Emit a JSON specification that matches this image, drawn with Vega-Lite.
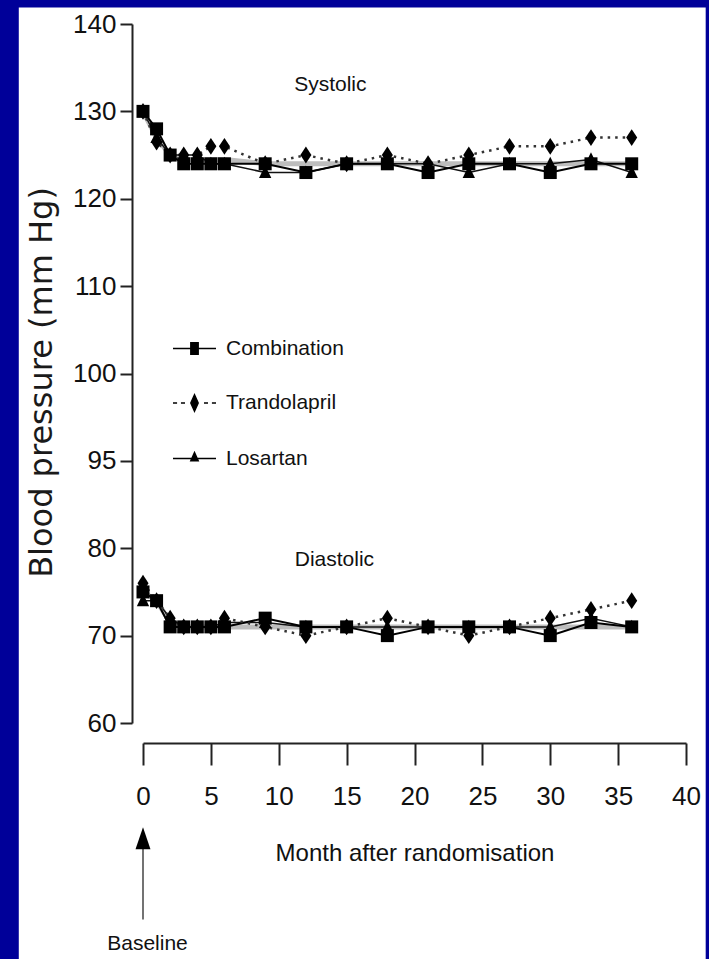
{
  "$schema": "https://vega.github.io/schema/vega-lite/v6.json",
  "width": 543,
  "height": 699,
  "autosize": "none",
  "padding": {"left": 143, "top": 24, "right": 23, "bottom": 236},
  "background": "#000099",
  "config": {"view": {"stroke": null}, "font": "Liberation Sans, Arial, sans-serif"},
  "data": {"values": [
    {"m":0,"bp":"Systolic","drug":"Losartan","v":130},
    {"m":1,"bp":"Systolic","drug":"Losartan","v":127},
    {"m":2,"bp":"Systolic","drug":"Losartan","v":125},
    {"m":3,"bp":"Systolic","drug":"Losartan","v":125},
    {"m":4,"bp":"Systolic","drug":"Losartan","v":125},
    {"m":5,"bp":"Systolic","drug":"Losartan","v":124},
    {"m":6,"bp":"Systolic","drug":"Losartan","v":124},
    {"m":9,"bp":"Systolic","drug":"Losartan","v":123},
    {"m":12,"bp":"Systolic","drug":"Losartan","v":123},
    {"m":15,"bp":"Systolic","drug":"Losartan","v":124},
    {"m":18,"bp":"Systolic","drug":"Losartan","v":124},
    {"m":21,"bp":"Systolic","drug":"Losartan","v":124},
    {"m":24,"bp":"Systolic","drug":"Losartan","v":123},
    {"m":27,"bp":"Systolic","drug":"Losartan","v":124},
    {"m":30,"bp":"Systolic","drug":"Losartan","v":124},
    {"m":33,"bp":"Systolic","drug":"Losartan","v":124.5},
    {"m":36,"bp":"Systolic","drug":"Losartan","v":123},
    {"m":0,"bp":"Diastolic","drug":"Losartan","v":74},
    {"m":1,"bp":"Diastolic","drug":"Losartan","v":74},
    {"m":2,"bp":"Diastolic","drug":"Losartan","v":72},
    {"m":3,"bp":"Diastolic","drug":"Losartan","v":71},
    {"m":4,"bp":"Diastolic","drug":"Losartan","v":71},
    {"m":5,"bp":"Diastolic","drug":"Losartan","v":71},
    {"m":6,"bp":"Diastolic","drug":"Losartan","v":71.5},
    {"m":9,"bp":"Diastolic","drug":"Losartan","v":71.5},
    {"m":12,"bp":"Diastolic","drug":"Losartan","v":71},
    {"m":15,"bp":"Diastolic","drug":"Losartan","v":71},
    {"m":18,"bp":"Diastolic","drug":"Losartan","v":71},
    {"m":21,"bp":"Diastolic","drug":"Losartan","v":71},
    {"m":24,"bp":"Diastolic","drug":"Losartan","v":71},
    {"m":27,"bp":"Diastolic","drug":"Losartan","v":71},
    {"m":30,"bp":"Diastolic","drug":"Losartan","v":71},
    {"m":33,"bp":"Diastolic","drug":"Losartan","v":72},
    {"m":36,"bp":"Diastolic","drug":"Losartan","v":71},
    {"m":0,"bp":"Systolic","drug":"Trandolapril","v":130},
    {"m":1,"bp":"Systolic","drug":"Trandolapril","v":126.5},
    {"m":2,"bp":"Systolic","drug":"Trandolapril","v":125},
    {"m":3,"bp":"Systolic","drug":"Trandolapril","v":125},
    {"m":4,"bp":"Systolic","drug":"Trandolapril","v":125},
    {"m":5,"bp":"Systolic","drug":"Trandolapril","v":126},
    {"m":6,"bp":"Systolic","drug":"Trandolapril","v":126},
    {"m":9,"bp":"Systolic","drug":"Trandolapril","v":124},
    {"m":12,"bp":"Systolic","drug":"Trandolapril","v":125},
    {"m":15,"bp":"Systolic","drug":"Trandolapril","v":124},
    {"m":18,"bp":"Systolic","drug":"Trandolapril","v":125},
    {"m":21,"bp":"Systolic","drug":"Trandolapril","v":124},
    {"m":24,"bp":"Systolic","drug":"Trandolapril","v":125},
    {"m":27,"bp":"Systolic","drug":"Trandolapril","v":126},
    {"m":30,"bp":"Systolic","drug":"Trandolapril","v":126},
    {"m":33,"bp":"Systolic","drug":"Trandolapril","v":127},
    {"m":36,"bp":"Systolic","drug":"Trandolapril","v":127},
    {"m":0,"bp":"Diastolic","drug":"Trandolapril","v":76},
    {"m":1,"bp":"Diastolic","drug":"Trandolapril","v":74},
    {"m":2,"bp":"Diastolic","drug":"Trandolapril","v":72},
    {"m":3,"bp":"Diastolic","drug":"Trandolapril","v":71},
    {"m":4,"bp":"Diastolic","drug":"Trandolapril","v":71},
    {"m":5,"bp":"Diastolic","drug":"Trandolapril","v":71},
    {"m":6,"bp":"Diastolic","drug":"Trandolapril","v":72},
    {"m":9,"bp":"Diastolic","drug":"Trandolapril","v":71},
    {"m":12,"bp":"Diastolic","drug":"Trandolapril","v":70},
    {"m":15,"bp":"Diastolic","drug":"Trandolapril","v":71},
    {"m":18,"bp":"Diastolic","drug":"Trandolapril","v":72},
    {"m":21,"bp":"Diastolic","drug":"Trandolapril","v":71},
    {"m":24,"bp":"Diastolic","drug":"Trandolapril","v":70},
    {"m":27,"bp":"Diastolic","drug":"Trandolapril","v":71},
    {"m":30,"bp":"Diastolic","drug":"Trandolapril","v":72},
    {"m":33,"bp":"Diastolic","drug":"Trandolapril","v":73},
    {"m":36,"bp":"Diastolic","drug":"Trandolapril","v":74},
    {"m":0,"bp":"Systolic","drug":"Combination","v":130},
    {"m":1,"bp":"Systolic","drug":"Combination","v":128},
    {"m":2,"bp":"Systolic","drug":"Combination","v":125},
    {"m":3,"bp":"Systolic","drug":"Combination","v":124},
    {"m":4,"bp":"Systolic","drug":"Combination","v":124},
    {"m":5,"bp":"Systolic","drug":"Combination","v":124},
    {"m":6,"bp":"Systolic","drug":"Combination","v":124},
    {"m":9,"bp":"Systolic","drug":"Combination","v":124},
    {"m":12,"bp":"Systolic","drug":"Combination","v":123},
    {"m":15,"bp":"Systolic","drug":"Combination","v":124},
    {"m":18,"bp":"Systolic","drug":"Combination","v":124},
    {"m":21,"bp":"Systolic","drug":"Combination","v":123},
    {"m":24,"bp":"Systolic","drug":"Combination","v":124},
    {"m":27,"bp":"Systolic","drug":"Combination","v":124},
    {"m":30,"bp":"Systolic","drug":"Combination","v":123},
    {"m":33,"bp":"Systolic","drug":"Combination","v":124},
    {"m":36,"bp":"Systolic","drug":"Combination","v":124},
    {"m":0,"bp":"Diastolic","drug":"Combination","v":75},
    {"m":1,"bp":"Diastolic","drug":"Combination","v":74},
    {"m":2,"bp":"Diastolic","drug":"Combination","v":71},
    {"m":3,"bp":"Diastolic","drug":"Combination","v":71},
    {"m":4,"bp":"Diastolic","drug":"Combination","v":71},
    {"m":5,"bp":"Diastolic","drug":"Combination","v":71},
    {"m":6,"bp":"Diastolic","drug":"Combination","v":71},
    {"m":9,"bp":"Diastolic","drug":"Combination","v":72},
    {"m":12,"bp":"Diastolic","drug":"Combination","v":71},
    {"m":15,"bp":"Diastolic","drug":"Combination","v":71},
    {"m":18,"bp":"Diastolic","drug":"Combination","v":70},
    {"m":21,"bp":"Diastolic","drug":"Combination","v":71},
    {"m":24,"bp":"Diastolic","drug":"Combination","v":71},
    {"m":27,"bp":"Diastolic","drug":"Combination","v":71},
    {"m":30,"bp":"Diastolic","drug":"Combination","v":70},
    {"m":33,"bp":"Diastolic","drug":"Combination","v":71.5},
    {"m":36,"bp":"Diastolic","drug":"Combination","v":71},
    {"m":0,"bp":"Systolic","drug":"All","v":130},
    {"m":1,"bp":"Systolic","drug":"All","v":127},
    {"m":2,"bp":"Systolic","drug":"All","v":125},
    {"m":3,"bp":"Systolic","drug":"All","v":124.5},
    {"m":4,"bp":"Systolic","drug":"All","v":124.5},
    {"m":5,"bp":"Systolic","drug":"All","v":124.5},
    {"m":6,"bp":"Systolic","drug":"All","v":124.5},
    {"m":9,"bp":"Systolic","drug":"All","v":124},
    {"m":12,"bp":"Systolic","drug":"All","v":124},
    {"m":15,"bp":"Systolic","drug":"All","v":124},
    {"m":18,"bp":"Systolic","drug":"All","v":124},
    {"m":21,"bp":"Systolic","drug":"All","v":124},
    {"m":24,"bp":"Systolic","drug":"All","v":124},
    {"m":27,"bp":"Systolic","drug":"All","v":124},
    {"m":30,"bp":"Systolic","drug":"All","v":124},
    {"m":33,"bp":"Systolic","drug":"All","v":124},
    {"m":36,"bp":"Systolic","drug":"All","v":124},
    {"m":0,"bp":"Diastolic","drug":"All","v":75},
    {"m":1,"bp":"Diastolic","drug":"All","v":74},
    {"m":2,"bp":"Diastolic","drug":"All","v":71.5},
    {"m":3,"bp":"Diastolic","drug":"All","v":71},
    {"m":4,"bp":"Diastolic","drug":"All","v":71},
    {"m":5,"bp":"Diastolic","drug":"All","v":71},
    {"m":6,"bp":"Diastolic","drug":"All","v":71},
    {"m":9,"bp":"Diastolic","drug":"All","v":71},
    {"m":12,"bp":"Diastolic","drug":"All","v":71},
    {"m":15,"bp":"Diastolic","drug":"All","v":71},
    {"m":18,"bp":"Diastolic","drug":"All","v":71},
    {"m":21,"bp":"Diastolic","drug":"All","v":71},
    {"m":24,"bp":"Diastolic","drug":"All","v":71},
    {"m":27,"bp":"Diastolic","drug":"All","v":71},
    {"m":30,"bp":"Diastolic","drug":"All","v":71},
    {"m":33,"bp":"Diastolic","drug":"All","v":71},
    {"m":36,"bp":"Diastolic","drug":"All","v":71}
  ]},
  "resolve": {"scale": {"shape": "independent"}},
  "layer": [
    {
      "data": {"values": [{}]},
      "mark": {"type": "rect", "fill": "white"},
      "encoding": {
        "x": {"datum": -9.15, "type": "quantitative",
          "scale": {"domain": [0, 40], "nice": false, "zero": false},
          "axis": {"zindex": 1, "values": [0,5,10,15,20,25,30,35,40], "offset": 20, "tickSize": 22, "tickWidth": 2, "tickColor": "#222", "domainColor": "#222", "domainWidth": 2, "labelFontSize": 26, "labelPadding": 18, "labelFlush": false, "labelOverlap": false, "labelColor": "#111", "labelFont": "Liberation Sans, Arial, sans-serif", "grid": false, "title": "Month after randomisation", "titleFont": "Liberation Sans, Arial, sans-serif", "titleFontSize": 24, "titleFontWeight": "normal", "titleColor": "#111", "titlePadding": 32}},
        "x2": {"datum": 41.45},
        "y": {"datum": 141.9, "type": "quantitative",
          "scale": {"domain": [60, 80, 95, 100, 140], "range": [699, 524.25, 436.875, 349.5, 0], "nice": false, "zero": false},
          "axis": {"zindex": 1, "values": [60,70,80,95,100,110,120,130,140], "offset": 11, "tickSize": 12, "tickWidth": 2, "tickColor": "#222", "domainColor": "#222", "domainWidth": 2, "labelFontSize": 26, "labelPadding": 4, "labelOverlap": false, "labelFlush": false, "labelColor": "#111", "labelFont": "Liberation Sans, Arial, sans-serif", "grid": false, "title": "Blood pressure (mm Hg)", "titleFont": "DejaVu Sans", "titleFontSize": 32, "titleFontWeight": "normal", "titleColor": "#1a1a1a", "titlePadding": 14, "titleY": 358}},
        "y2": {"datum": 30}
      }
    },
    {
      "transform": [{"filter": "datum.drug === 'All'"}],
      "mark": {"type": "line", "color": "#bdbdbd", "strokeWidth": 5},
      "encoding": {"x": {"field": "m", "type": "quantitative"}, "y": {"field": "v", "type": "quantitative"}, "detail": {"field": "bp"}}
    },
    {
      "transform": [{"filter": "datum.drug === 'Losartan'"}],
      "mark": {"type": "line", "color": "#111", "strokeWidth": 1.5},
      "encoding": {"x": {"field": "m", "type": "quantitative"}, "y": {"field": "v", "type": "quantitative"}, "detail": {"field": "bp"}}
    },
    {
      "transform": [{"filter": "datum.drug === 'Combination'"}],
      "mark": {"type": "line", "color": "#000", "strokeWidth": 2},
      "encoding": {"x": {"field": "m", "type": "quantitative"}, "y": {"field": "v", "type": "quantitative"}, "detail": {"field": "bp"}}
    },
    {
      "transform": [{"filter": "datum.drug === 'Trandolapril'"}],
      "mark": {"type": "line", "color": "#333", "strokeWidth": 2.5, "strokeDash": [2.5, 5]},
      "encoding": {"x": {"field": "m", "type": "quantitative"}, "y": {"field": "v", "type": "quantitative"}, "detail": {"field": "bp"}}
    },
    {
      "transform": [{"filter": "datum.drug !== 'All'"}],
      "mark": {"type": "point", "filled": true, "fill": "#000", "opacity": 1, "size": 169},
      "encoding": {
        "x": {"field": "m", "type": "quantitative"},
        "y": {"field": "v", "type": "quantitative"},
        "shape": {"field": "drug", "type": "nominal",
          "scale": {"domain": ["Combination", "Trandolapril", "Losartan"], "range": ["M-1,-1H1V1H-1Z", "M0,-1.3L0.85,0L0,1.3L-0.85,0Z", "M0,-1.1L0.95,0.85H-0.95Z"]},
          "legend": null}
      }
    },
    {
      "transform": [{"filter": "false"}],
      "mark": {"type": "point", "filled": true, "fill": "#000", "stroke": "#000", "strokeWidth": 2, "opacity": 1, "size": 1849},
      "encoding": {
        "x": {"field": "m", "type": "quantitative"},
        "y": {"field": "v", "type": "quantitative"},
        "shape": {"field": "drug", "type": "nominal",
          "scale": {"domain": ["Combination", "Trandolapril", "Losartan"], "range": ["M-1,0H1M-0.17,-0.27H0.17V0.27H-0.17Z", "M-1,0H-0.81M-0.63,0H-0.44M0.44,0H0.63M0.81,0H1M0,-0.38L0.17,0L0,0.38L-0.17,0Z", "M-1,0H1M0,-0.28L0.17,0.1H-0.17Z"]},
          "legend": {"orient": "none", "legendX": 29, "legendY": 302, "title": null, "padding": 0, "symbolSize": 1849, "labelFontSize": 21, "labelFont": "Liberation Sans, Arial, sans-serif", "labelColor": "#111", "labelOffset": 9, "rowPadding": 21.5, "labelLimit": 0,
            "encode": {"symbols": {"stroke": {"value": "#000"}, "strokeWidth": {"value": 2}, "strokeOpacity": {"value": 1}, "fill": {"value": "#000"}}}}}
      }
    },
    {
      "data": {"values": [{}]},
      "mark": {"type": "text", "text": "Systolic", "fontSize": 21, "color": "#111", "align": "center", "baseline": "middle"},
      "encoding": {"x": {"datum": 13.8, "type": "quantitative"}, "y": {"datum": 133, "type": "quantitative"}}
    },
    {
      "data": {"values": [{}]},
      "mark": {"type": "text", "text": "Diastolic", "fontSize": 21, "color": "#111", "align": "center", "baseline": "middle"},
      "encoding": {"x": {"datum": 14.1, "type": "quantitative"}, "y": {"datum": 78.6, "type": "quantitative"}}
    },
    {
      "data": {"values": [{}]},
      "mark": {"type": "rule", "color": "#444", "strokeWidth": 1.5},
      "encoding": {"x": {"datum": 0, "type": "quantitative"}, "y": {"datum": 37.5, "type": "quantitative"}, "y2": {"datum": 46}}
    },
    {
      "data": {"values": [{}]},
      "mark": {"type": "point", "filled": true, "fill": "#000", "opacity": 1, "size": 484, "shape": "M0,-1L0.68,1H-0.68Z"},
      "encoding": {"x": {"datum": 0, "type": "quantitative"}, "y": {"datum": 46.8, "type": "quantitative"}}
    },
    {
      "data": {"values": [{}]},
      "mark": {"type": "text", "text": "Baseline", "fontSize": 21, "color": "#111", "align": "center", "baseline": "middle"},
      "encoding": {"x": {"datum": 0.33, "type": "quantitative"}, "y": {"datum": 34.7, "type": "quantitative"}}
    }
  ]
}
